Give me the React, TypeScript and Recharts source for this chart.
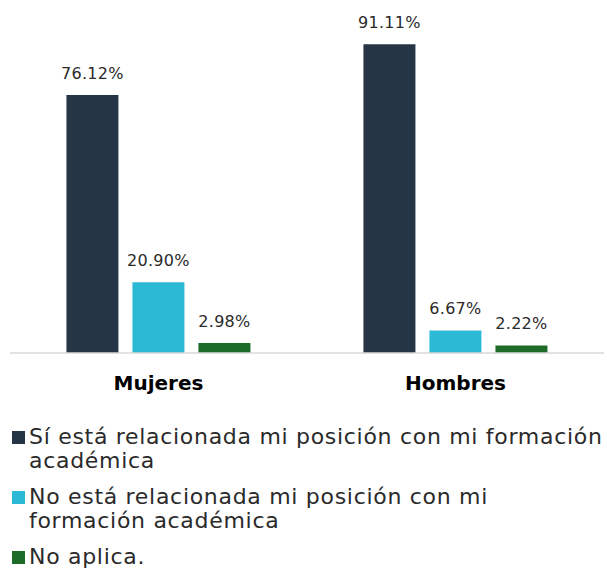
import React from "react";
import { BarChart, Bar, XAxis, YAxis, LabelList, Legend } from "recharts";

// Categorías y valores (%)
const categories = ["Mujeres", "Hombres"];
const relacionada = [76.12, 91.11];
const noRelacionada = [20.9, 6.67];
const noAplica = [2.98, 2.22];

const seriesNames = [
  ["Sí está relacionada mi posición con mi formación", "académica"],
  ["No está relacionada mi posición con mi", "formación académica"],
  ["No aplica."],
];
const COLORS = ["#253545", "#2cb9d6", "#1c6b28"];

const data = categories.map((name, i) => ({
  name,
  relacionada: relacionada[i],
  noRelacionada: noRelacionada[i],
  noAplica: noAplica[i],
}));

const FONT = "'DejaVu Sans', sans-serif";

const fmt = (v: any) => `${Number(v).toFixed(2)}%`;

const CustomLegend = () => (
  <div
    style={{
      height: 146,
      fontFamily: FONT,
      color: "#2a2a2a",
      fontSize: 22,
      letterSpacing: 0.7,
    }}
  >
    {seriesNames.map((lines, i) => (
      <div key={i} style={{ display: "flex", marginBottom: 12 }}>
        <div
          style={{
            width: 13,
            height: 13,
            background: COLORS[i],
            marginLeft: 12,
            marginRight: 4,
            marginTop: 6,
            flexShrink: 0,
          }}
        />
        <div style={{ lineHeight: "24px" }}>
          {lines.map((l, j) => (
            <div key={j} style={{ whiteSpace: "nowrap" }}>
              {l}
            </div>
          ))}
        </div>
      </div>
    ))}
  </div>
);

const labelStyle = { fill: "#2a2a2a", fontSize: 16, fontFamily: FONT, letterSpacing: 0.3 };

export default function App() {
  return (
    <div style={{ position: "absolute", left: 0, top: 0, width: 607, height: 571 }}>
      <BarChart
        width={607}
        height={571}
        data={data}
        margin={{ top: 14, right: 3, left: 10, bottom: 0 }}
        barGap={14}
        barCategoryGap="19%"
      >
        <XAxis
          dataKey="name"
          axisLine={{ stroke: "#d9d9d9", strokeWidth: 1.5 }}
          tickLine={false}
          tickMargin={17}
          height={72}
          tick={{ fill: "#000", fontSize: 20, fontWeight: 700, fontFamily: FONT }}
        />
        <YAxis hide domain={[0, 100]} />
        <Legend
          verticalAlign="bottom"
          align="left"
          content={<CustomLegend />}
          wrapperStyle={{ left: 0 }}
        />
        <Bar dataKey="relacionada" fill={COLORS[0]} isAnimationActive={false}>
          <LabelList dataKey="relacionada" position="top" offset={16} formatter={fmt} style={labelStyle} />
        </Bar>
        <Bar dataKey="noRelacionada" fill={COLORS[1]} isAnimationActive={false}>
          <LabelList dataKey="noRelacionada" position="top" offset={16} formatter={fmt} style={labelStyle} />
        </Bar>
        <Bar dataKey="noAplica" fill={COLORS[2]} isAnimationActive={false}>
          <LabelList dataKey="noAplica" position="top" offset={16} formatter={fmt} style={labelStyle} />
        </Bar>
      </BarChart>
    </div>
  );
}
